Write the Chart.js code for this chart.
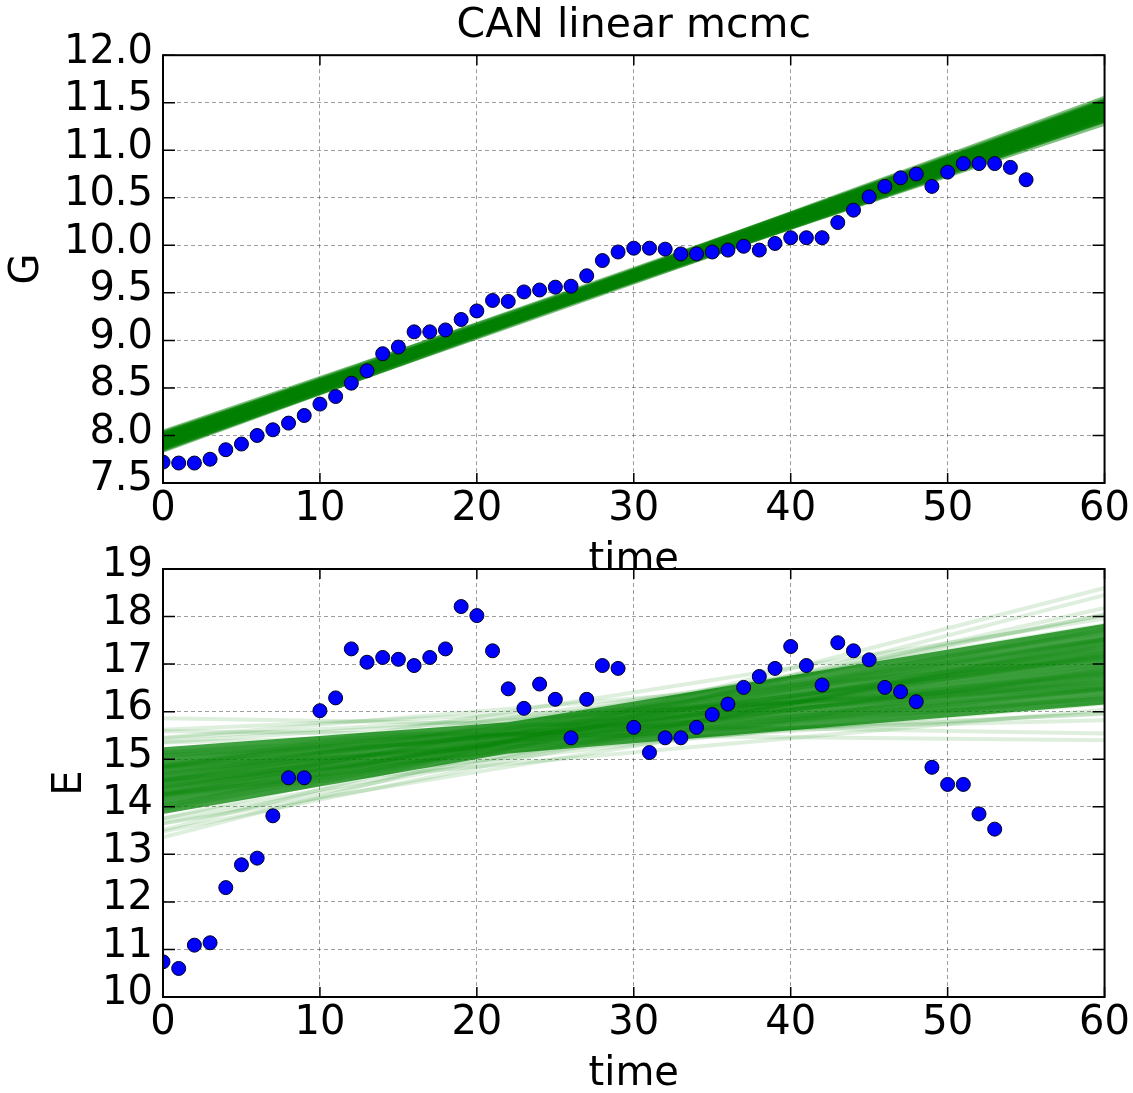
<!DOCTYPE html>
<html><head><meta charset="utf-8">
<script src="https://cdn.jsdelivr.net/npm/chart.js@4/dist/chart.umd.min.js"></script>
<style>
html,body{margin:0;padding:0;background:#fff;}
#wrap{position:relative;width:1133px;height:1093px;}
canvas{position:absolute;left:0;top:0;}
</style></head><body>
<div id="wrap"><canvas id="cTop" width="1133" height="1093"></canvas><canvas id="cBot" width="1133" height="1093"></canvas></div>
<script>
// ---------- data ----------
const chartTitle = 'CAN linear mcmc';
const xTickValues = [0, 10, 20, 30, 40, 50, 60];
const xTickLabels = ['0', '10', '20', '30', '40', '50', '60'];
const gTickValues = [7.5, 8.0, 8.5, 9.0, 9.5, 10.0, 10.5, 11.0, 11.5, 12.0];
const gTickLabels = ['7.5', '8.0', '8.5', '9.0', '9.5', '10.0', '10.5', '11.0', '11.5', '12.0'];
const eTickValues = [10, 11, 12, 13, 14, 15, 16, 17, 18, 19];
const eTickLabels = ['10', '11', '12', '13', '14', '15', '16', '17', '18', '19'];

const timeG = [0,1,2,3,4,5,6,7,8,9,10,11,12,13,14,15,16,17,18,19,20,21,22,23,24,25,26,27,28,29,30,31,32,33,34,35,36,37,38,39,40,41,42,43,44,45,46,47,48,49,50,51,52,53,54,55];
const gValues = [7.72,7.71,7.71,7.75,7.85,7.91,8.00,8.06,8.13,8.21,
                 8.33,8.41,8.55,8.68,8.86,8.93,9.09,9.09,9.11,9.22,
                 9.31,9.42,9.41,9.51,9.53,9.56,9.57,9.68,9.84,9.93,
                 9.97,9.97,9.96,9.91,9.91,9.93,9.95,9.99,9.95,10.02,
                 10.08,10.08,10.08,10.24,10.37,10.51,10.62,10.71,10.75,10.62,
                 10.77,10.86,10.86,10.86,10.82,10.69];

const timeE = [0,1,2,3,4,5,6,7,8,9,10,11,12,13,14,15,16,17,18,19,20,21,22,23,24,25,26,27,28,29,30,31,32,33,34,35,36,37,38,39,40,41,42,43,44,45,46,47,48,49,50,51,52,53];
const eValues = [10.74,10.60,11.09,11.14,12.30,12.78,12.92,13.81,14.61,14.61,
                 16.02,16.29,17.32,17.04,17.14,17.10,16.97,17.14,17.32,18.21,
                 18.02,17.28,16.48,16.07,16.58,16.26,15.45,16.26,16.97,16.91,
                 15.67,15.14,15.45,15.45,15.67,15.94,16.16,16.51,16.74,16.91,
                 17.37,16.97,16.56,17.45,17.28,17.09,16.51,16.42,16.21,14.83,
                 14.47,14.47,13.85,13.53];

// MCMC sample lines: value at time 0 and at time 60
const lineX = [0, 60];
const gLineStart = [7.94,7.90,7.98,7.88,8.00,7.92,7.96,7.86,8.02,7.93,7.95,7.89,7.99,7.91,7.97,7.87,8.03,7.94,7.92,7.96,7.90,8.01,7.85,7.98,7.93,7.95,7.88,8.00,7.91,7.97];
const gLineEnd   = [11.42,11.42,11.42,11.36,11.48,11.52,11.32,11.50,11.34,11.37,11.47,11.51,11.33,11.47,11.49,11.41,11.41,11.32,11.42,11.42,11.54,11.29,11.47,11.36,11.47,11.37,11.50,11.40,11.37,11.39];

const eLineStart = [14.55,14.70,14.40,14.25,14.85,14.40,14.70,15.00,14.10,14.85,14.25,13.96,15.14,14.26,14.84,15.44,13.66,14.52,14.31,14.79,
                    14.58,14.55,14.55,15.14,13.96,14.82,14.28,13.75,15.35,15.62,13.48,14.85,14.25,13.51,15.59,13.36,15.86,14.35,14.75,14.88,
                    14.22,14.17,14.93,14.58,14.52,14.02,15.08,14.67,14.43,14.61,14.49,14.82,14.28,15.45,13.65,15.36,13.75,14.02,15.08,14.43];
const eLineEnd   = [17.00,17.15,16.85,17.36,16.64,17.51,16.49,16.79,17.21,17.30,16.70,17.73,16.27,18.03,15.97,16.57,17.43,17.24,17.16,16.84,
                    16.77,17.53,16.47,16.54,17.46,17.67,16.33,18.18,15.82,16.49,17.51,17.96,16.04,18.60,15.40,18.45,15.54,17.72,16.28,17.06,
                    16.94,17.54,16.46,17.83,16.17,18.05,15.95,17.52,16.48,17.19,16.81,16.74,17.26,17.10,16.90,16.62,17.38,17.79,16.21,17.15];
// dense core of the E sample lines
const eCoreX    = [0, 22, 60];
const eCoreLow  = [13.85, 15.12, 16.15];
const eCoreHigh = [15.25, 15.78, 17.85];

// ---------- rendering ----------
Chart.defaults.font.family = 'DejaVu Sans';
Chart.defaults.color = '#000';

const framePlugin = {
  id: 'frame',
  beforeDraw(chart, args, opts) {
    if (opts.fillArea) {
      const a = chart.chartArea, ctx = chart.ctx;
      ctx.save(); ctx.fillStyle = '#fff';
      ctx.fillRect(a.left, a.top, a.right - a.left, a.bottom - a.top);
      ctx.restore();
    }
  },
  afterDraw(chart) {
    const {ctx, chartArea: a} = chart;
    const xs = chart.scales.x, ys = chart.scales.y;
    ctx.save();
    ctx.strokeStyle = '#000'; ctx.lineWidth = 1.5;
    ctx.beginPath();
    xs.ticks.forEach(t => {
      const p = xs.getPixelForValue(t.value);
      ctx.moveTo(p, a.bottom); ctx.lineTo(p, a.bottom - 10);
      ctx.moveTo(p, a.top); ctx.lineTo(p, a.top + 10);
    });
    ys.ticks.forEach(t => {
      const p = ys.getPixelForValue(t.value);
      ctx.moveTo(a.left, p); ctx.lineTo(a.left + 12, p);
      ctx.moveTo(a.right, p); ctx.lineTo(a.right - 12, p);
    });
    ctx.stroke();
    ctx.lineWidth = 2;
    ctx.strokeRect(a.left, a.top, a.right - a.left, a.bottom - a.top);
    ctx.restore();
  }
};

function xScale() {
  return {
    type: 'linear', min: 0, max: 60,
    afterBuildTicks: s => { s.ticks = xTickValues.map(v => ({value: v})); },
    afterFit: s => { s.height = 96; },
    grid: {color: 'rgba(0,0,0,0.38)', lineWidth: 1, drawTicks: false},
    border: {display: false, dash: [4, 3]},
    ticks: {autoSkip: false, maxRotation: 0, padding: 3, color: '#000', font: {size: 40},
            callback: (v, i) => xTickLabels[i]},
    title: {display: true, text: 'time', color: '#000', font: {size: 40, lineHeight: 1.0}, padding: {top: 0, bottom: -2}}
  };
}
function yScale(min, max, vals, labels, name, titlePad) {
  return {
    type: 'linear', min: min, max: max,
    afterBuildTicks: s => { s.ticks = vals.map(v => ({value: v})); },
    afterFit: s => { s.width = 163; },
    grid: {color: 'rgba(0,0,0,0.38)', lineWidth: 1, drawTicks: false},
    border: {display: false, dash: [4, 3]},
    ticks: {autoSkip: false, padding: 10, labelOffset: -3, color: '#000', font: {size: 40},
            callback: (v, i) => labels[i]},
    title: {display: true, text: name, color: '#000', font: {size: 40}, padding: {top: titlePad, bottom: 0}}
  };
}

function pointsDataset(xs, ys) {
  return {type: 'scatter', data: xs.map((t, i) => ({x: t, y: ys[i]})),
          backgroundColor: '#0000ff', borderColor: '#000022', borderWidth: 1,
          pointRadius: 7, order: 0};
}
function lineDatasets(starts, ends, color, width) {
  return starts.map((s, i) => ({
    type: 'line', data: [{x: lineX[0], y: s}, {x: lineX[1], y: ends[i]}],
    borderColor: color, borderWidth: width, pointRadius: 0, fill: false, tension: 0, order: 1
  }));
}

const common = {
  responsive: false, animation: false, events: [],
  plugins: {legend: {display: false}, tooltip: {enabled: false}}
};

// Top chart (G)
const topDatasets = [pointsDataset(timeG, gValues)].concat(lineDatasets(gLineStart, gLineEnd, 'rgba(0,128,0,0.5)', 6));
new Chart(document.getElementById('cTop'), {
  type: 'scatter',
  data: {datasets: topDatasets},
  options: Object.assign({}, common, {
    layout: {padding: {top: 0, left: 0, right: 28, bottom: 514}},
    plugins: {legend: {display: false}, tooltip: {enabled: false},
      title: {display: true, text: chartTitle, color: '#000', fullSize: false,
              font: {size: 41, weight: 'normal'}, padding: {top: 2, bottom: 4}},
      frame: {fillArea: false}},
    scales: {x: xScale(), y: yScale(7.5, 12.0, gTickValues, gTickLabels, 'G', 4)}
  }),
  plugins: [framePlugin]
});

// Bottom chart (E)
const botDatasets = [pointsDataset(timeE, eValues)]
  .concat([
    {type: 'line', data: eCoreX.map((x, i) => ({x: x, y: eCoreLow[i]})), borderWidth: 0, pointRadius: 0, fill: false, order: 3},
    {type: 'line', data: eCoreX.map((x, i) => ({x: x, y: eCoreHigh[i]})), borderWidth: 0, pointRadius: 0, fill: '-1',
     backgroundColor: 'rgba(0,128,0,0.74)', order: 3}
  ])
  .concat(lineDatasets(eLineStart, eLineEnd, 'rgba(0,128,0,0.13)', 4));
new Chart(document.getElementById('cBot'), {
  type: 'scatter',
  data: {datasets: botDatasets},
  options: Object.assign({}, common, {
    layout: {padding: {top: 569, left: 0, right: 28, bottom: 0}},
    plugins: {legend: {display: false}, tooltip: {enabled: false}, frame: {fillArea: true}},
    scales: {x: xScale(), y: yScale(10, 19, eTickValues, eTickLabels, 'E', 47)}
  }),
  plugins: [framePlugin]
});
</script>
</body></html>
